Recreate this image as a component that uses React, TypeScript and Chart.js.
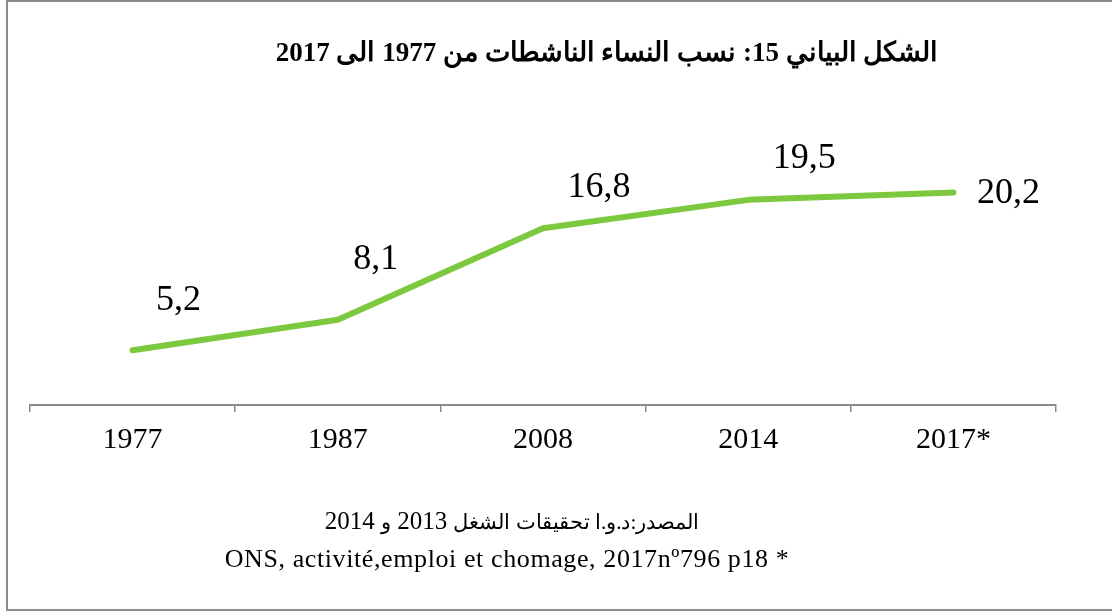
import React, { useEffect, useRef } from "react";
import { Chart, registerables } from "chart.js";

Chart.register(...registerables);

const categories = ["1977", "1987", "2008", "2014", "2017*"];
const shares = [5.2, 8.1, 16.8, 19.5, 20.2];
const valueLabels = ["5,2", "8,1", "16,8", "19,5", "20,2"];
const titleText = "الشكل البياني 15: نسب النساء الناشطات من 1977 الى 2017";
const sourceArabic = "المصدر:د.و.ا تحقيقات الشغل";
const sourceYears = ["2013", "2014"];
const sourceAnd = "و";
const sourceLine2 = "ONS, activité,emploi et chomage, 2017nº796 p18 *";

// label offsets (pixels) relative to each point
const labelOffsets: [number, number][] = [
  [46, -50],
  [38, -60],
  [56, -41],
  [56, -41],
  [55, 1],
];

const W = 1112;
const H = 612;
const SERIF = "'Liberation Serif', 'Times New Roman', serif";

const valueLabelPlugin = {
  id: "valueLabels",
  afterDatasetsDraw(chart: any) {
    const meta = chart.getDatasetMeta(0);
    const ctx = chart.ctx;
    ctx.save();
    ctx.font = `36px ${SERIF}`;
    ctx.fillStyle = "#000";
    ctx.textAlign = "center";
    ctx.textBaseline = "middle";
    meta.data.forEach((pt: any, i: number) => {
      const [dx, dy] = labelOffsets[i];
      ctx.fillText(valueLabels[i], pt.x + dx, pt.y + dy);
    });
    ctx.restore();
  },
};

export default function App() {
  const canvasRef = useRef<HTMLCanvasElement | null>(null);

  useEffect(() => {
    if (!canvasRef.current) return;
    const chart = new Chart(canvasRef.current, {
      type: "line",
      data: {
        labels: categories,
        datasets: [
          {
            data: shares,
            borderColor: "#7CC83E",
            borderWidth: 6,
            borderCapStyle: "round",
            borderJoinStyle: "round",
            pointRadius: 0,
            pointHoverRadius: 0,
            tension: 0,
            fill: false,
          },
        ],
      },
      options: {
        responsive: false,
        animation: false,
        devicePixelRatio: 1,
        layout: { padding: { left: 30, right: W - 1056, top: 142, bottom: 0 } },
        plugins: {
          legend: { display: false },
          title: { display: false },
          tooltip: { enabled: false },
        },
        scales: {
          x: {
            offset: true,
            afterFit: (axis: any) => {
              axis.height = H - 405;
            },
            grid: {
              display: true,
              offset: true,
              drawOnChartArea: false,
              drawTicks: true,
              tickLength: 7,
              color: "#8a8a8a",
              lineWidth: 1.5,
            },
            border: { display: true, color: "#8a8a8a", width: 2 },
            ticks: {
              color: "#000",
              padding: 10,
              maxRotation: 0,
              autoSkip: false,
              font: { family: SERIF, size: 30 },
            },
          },
          y: {
            display: false,
            min: 0,
            max: 25,
          },
        },
      },
      plugins: [valueLabelPlugin],
    } as any);
    return () => chart.destroy();
  }, []);

  return (
    <div
      style={{
        position: "fixed",
        left: 0,
        top: 0,
        width: W,
        height: H,
        background: "#fff",
        overflow: "hidden",
      }}
    >
      <canvas
        ref={canvasRef}
        width={W}
        height={H}
        style={{ position: "absolute", left: 0, top: 0, width: W, height: H }}
      />
      <div
        style={{
          position: "absolute",
          left: 6,
          top: 0,
          width: 1200,
          height: 607,
          border: "2px solid #8c8c8c",
          pointerEvents: "none",
        }}
      />
      <div
        dir="rtl"
        style={{
          position: "absolute",
          left: 257,
          width: 700,
          top: 37,
          lineHeight: "30px",
          textAlign: "center",
          fontFamily: SERIF,
          fontWeight: "bold",
          fontSize: 27,
          color: "#000",
          whiteSpace: "nowrap",
        }}
      >
        {titleText}
      </div>
      <div
        dir="rtl"
        style={{
          position: "absolute",
          left: 212,
          width: 600,
          top: 506,
          lineHeight: "30px",
          textAlign: "center",
          fontFamily: SERIF,
          fontSize: 25,
          color: "#000",
          whiteSpace: "nowrap",
        }}
      >
        <span style={{ fontSize: 21 }}>{sourceArabic}</span> {sourceYears[0]}{" "}
        <span style={{ fontSize: 21 }}>{sourceAnd}</span> {sourceYears[1]}
      </div>
      <div
        dir="ltr"
        style={{
          position: "absolute",
          left: 207,
          width: 600,
          top: 544,
          lineHeight: "30px",
          textAlign: "center",
          fontFamily: SERIF,
          fontSize: 26,
          letterSpacing: "0.6px",
          color: "#000",
          whiteSpace: "nowrap",
        }}
      >
        {sourceLine2}
      </div>
    </div>
  );
}
